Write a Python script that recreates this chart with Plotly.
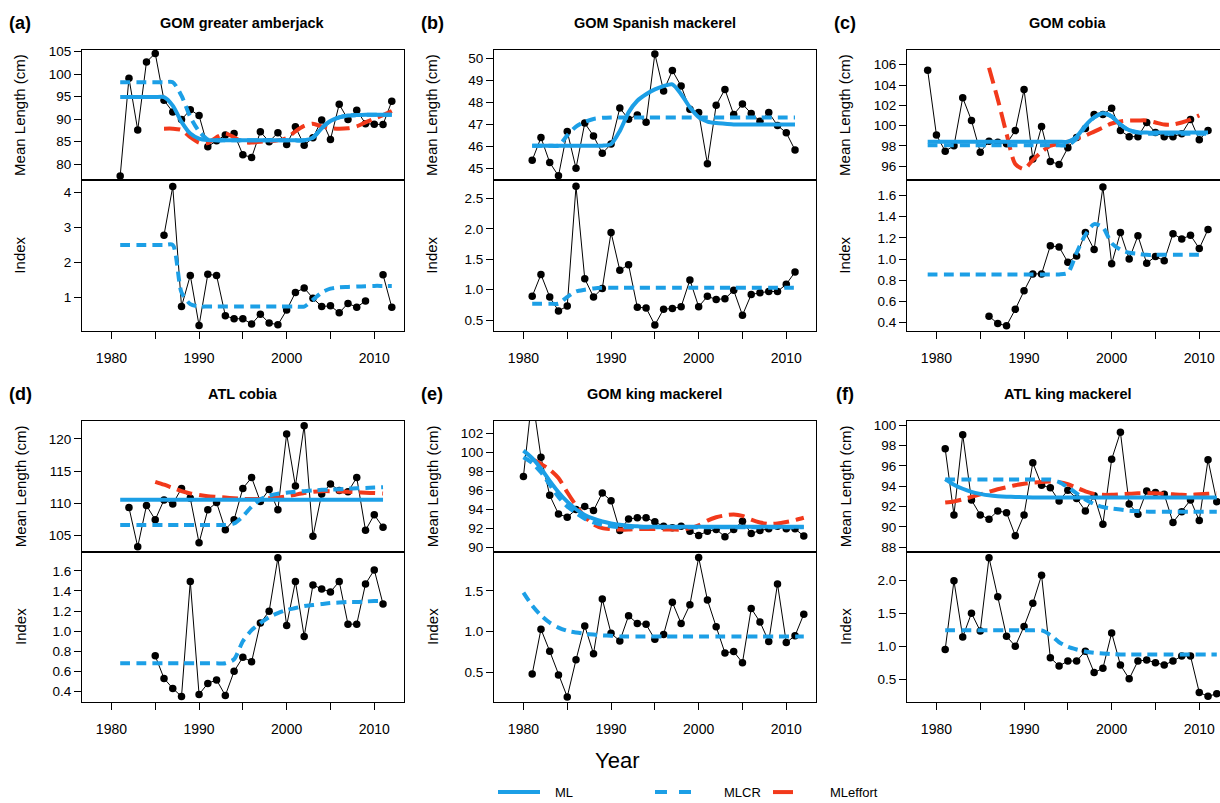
import plotly.graph_objects as go

W, H = 1220, 803
FONT = "Liberation Sans, Arial, Helvetica, sans-serif"
BLUE = "#1C9FE6"
RED = "#F2391B"

# ---------------- (a) GOM greater amberjack ----------------
a_len_years = [1981, 1982, 1983, 1984, 1985, 1986, 1987, 1988, 1989, 1990, 1991, 1992, 1993, 1994, 1995, 1996,
               1997, 1998, 1999, 2000, 2001, 2002, 2003, 2004, 2005, 2006, 2007, 2008, 2009, 2010, 2011, 2012]
a_len = [77.4, 99.1, 87.6, 102.7, 104.6, 94.2, 91.6, 89.9, 92.1, 90.8, 83.9, 85.2, 86.5, 86.8, 82.1, 81.5,
         87.2, 85.0, 87.0, 84.4, 88.3, 84.2, 85.9, 89.8, 85.5, 93.3, 89.9, 92.0, 89.0, 88.9, 88.8, 94.0]
a_ml = [94.9, 94.9, 94.9, 94.9, 94.9, 94.9, 93.0, 89.4, 86.8, 85.7, 85.35, 85.3, 85.3, 85.3, 85.3, 85.3,
        85.3, 85.3, 85.3, 85.3, 85.3, 85.3, 85.9, 88.0, 89.6, 90.4, 90.8, 90.9, 91.0, 91.0, 91.0, 91.0]
a_mlcr = [98.2, 98.2, 98.2, 98.2, 98.2, 98.2, 98.2, 95.2, 90.5, 87.3, 85.5, 85.3, 85.3, 85.3, 85.3, 85.3,
          85.3, 85.3, 85.3, 85.3, 85.3, 85.3, 85.9, 88.0, 89.6, 90.4, 90.8, 90.9, 91.0, 91.0, 91.0, 91.0]
a_eff_years = [1986, 1987, 1988, 1989, 1990, 1991, 1992, 1993, 1994, 1995, 1996, 1997, 1998, 1999, 2000,
               2001, 2002, 2003, 2004, 2005, 2006, 2007, 2008, 2009, 2010, 2011, 2012]
a_eff = [87.9, 87.9, 87.6, 86.0, 84.8, 84.7, 86.0, 86.8, 86.0, 84.9, 84.8, 85.0, 85.1, 85.3, 85.8,
         87.3, 88.5, 89.0, 88.4, 88.0, 87.9, 88.0, 88.4, 89.3, 90.1, 90.9, 91.8]
a_idx_years = [1986, 1987, 1988, 1989, 1990, 1991, 1992, 1993, 1994, 1995, 1996, 1997, 1998, 1999, 2000,
               2001, 2002, 2003, 2004, 2005, 2006, 2007, 2008, 2009, 2010, 2011, 2012]
a_idx = [2.77, 4.16, 0.73, 1.62, 0.19, 1.65, 1.62, 0.47, 0.38, 0.38, 0.23, 0.51, 0.26, 0.21, 0.63,
         1.13, 1.26, 0.97, 0.73, 0.75, 0.55, 0.82, 0.71, 0.89, None, 1.64, 0.71]
a_idx_cr = [2.49, 2.49, 2.49, 2.49, 2.49, 2.49, 2.49, 1.13, 0.80, 0.73, 0.73, 0.73, 0.73, 0.73, 0.73, 0.73,
            0.73, 0.73, 0.73, 0.73, 0.73, 0.73, 0.92, 1.13, 1.24, 1.28, 1.29, 1.30, 1.31, 1.32, 1.32, 1.32]

# ---------------- (b) GOM Spanish mackerel ----------------
b_years = [1981, 1982, 1983, 1984, 1985, 1986, 1987, 1988, 1989, 1990, 1991, 1992, 1993, 1994, 1995, 1996,
           1997, 1998, 1999, 2000, 2001, 2002, 2003, 2004, 2005, 2006, 2007, 2008, 2009, 2010, 2011]
b_len = [45.36, 46.4, 45.26, 44.65, 46.68, 45.0, 47.06, 46.47, 45.68, 46.1, 47.75, 47.24, 47.43, 47.1, 50.22,
         48.53, 49.46, 48.75, 47.69, 47.54, 45.2, 47.88, 48.6, 47.45, 47.93, 47.5, 47.15, 47.54, 46.95, 46.62, 45.83]
b_ml = [46.03, 46.03, 46.03, 46.03, 46.03, 46.03, 46.03, 46.03, 46.03, 46.1, 46.7, 47.55, 48.08, 48.38, 48.6,
        48.75, 48.83, 48.38, 47.78, 47.33, 47.13, 47.06, 47.03, 47.0, 47.0, 47.0, 47.0, 47.0, 47.0, 47.0, 47.0]
b_mlcr = [46.03, 46.03, 46.03, 46.03, 46.5, 46.9, 47.12, 47.25, 47.3, 47.32, 47.32, 47.32, 47.32, 47.32, 47.32,
          47.32, 47.32, 47.32, 47.32, 47.32, 47.32, 47.32, 47.32, 47.32, 47.32, 47.32, 47.32, 47.32, 47.32, 47.32, 47.32]
b_idx = [0.89, 1.25, 0.88, 0.65, 0.73, 2.70, 1.18, 0.88, 1.02, 1.94, 1.32, 1.41, 0.71, 0.70, 0.42,
         0.68, 0.69, 0.72, 1.16, 0.72, 0.89, 0.84, 0.85, 0.99, 0.58, 0.92, 0.95, 0.97, 0.97, 1.09, 1.29]
b_idx_cr = [0.77, 0.77, 0.77, 0.77, 0.88, 0.97, 1.0, 1.02, 1.03, 1.03, 1.03, 1.03, 1.03, 1.03, 1.03,
            1.03, 1.03, 1.03, 1.03, 1.03, 1.03, 1.03, 1.03, 1.03, 1.03, 1.03, 1.03, 1.03, 1.03, 1.03, 1.03]

# ---------------- (c) GOM cobia ----------------
c_years = [1979, 1980, 1981, 1982, 1983, 1984, 1985, 1986, 1987, 1988, 1989, 1990, 1991, 1992, 1993, 1994, 1995,
           1996, 1997, 1998, 1999, 2000, 2001, 2002, 2003, 2004, 2005, 2006, 2007, 2008, 2009, 2010, 2011]
c_len = [105.45, 99.06, 97.47, 98.0, 102.74, 100.5, 97.37, 98.44, 98.35, 98.2, 99.5, 103.55, 96.7, 99.9, 96.45,
         96.16, 97.8, 98.83, 99.7, 101.1, 101.1, 101.7, 99.5, 98.9, 98.9, 100.3, 99.3, 98.9, 98.9, 99.2, 100.6,
         98.6, 99.5]
c_ml = [98.4, 98.4, 98.4, 98.4, 98.4, 98.4, 98.4, 98.4, 98.4, 98.4, 98.4, 98.4, 98.4, 98.4, 98.4, 98.4, 98.4,
        98.9, 100.0, 100.8, 101.2, 100.9, 100.1, 99.55, 99.35, 99.3, 99.3, 99.3, 99.3, 99.3, 99.3, 99.3, 99.3]
c_mlcr = [98.05, 98.05, 98.05, 98.05, 98.05, 98.05, 98.05, 98.05, 98.05, 98.05, 98.05, 98.05, 98.05, 98.05,
          98.05, 98.05, 98.05, 98.7, 99.9, 100.8, 101.2, 100.9, 100.1, 99.5, 99.3, 99.2, 99.2, 99.2, 99.2, 99.2,
          99.2, 99.2, 99.2]
c_eff_years = [1986, 1987, 1988, 1989, 1990, 1991, 1992, 1993, 1994, 1995, 1996, 1997, 1998, 1999, 2000,
               2001, 2002, 2003, 2004, 2005, 2006, 2007, 2008, 2009, 2010]
c_eff = [105.7, 102.6, 99.2, 96.2, 95.7, 96.6, 97.4, 98.0, 98.2, 98.4, 98.7, 99.0, 99.4, 99.8, 100.2,
         100.4, 100.5, 100.5, 100.5, 100.3, 100.1, 100.1, 100.3, 100.6, 101.0]
c_idx_years = [1986, 1987, 1988, 1989, 1990, 1991, 1992, 1993, 1994, 1995, 1996, 1997, 1998, 1999, 2000,
               2001, 2002, 2003, 2004, 2005, 2006, 2007, 2008, 2009, 2010, 2011]
c_idx = [0.46, 0.39, 0.37, 0.525, 0.70, 0.86, 0.86, 1.125, 1.115, 0.97, 1.03, 1.25, 1.09, 1.68, 0.955,
         1.25, 1.0, 1.22, 0.96, 1.025, 0.985, 1.24, 1.19, 1.225, 1.10, 1.28]
c_cr_years = [1979, 1980, 1981, 1982, 1983, 1984, 1985, 1986, 1987, 1988, 1989, 1990, 1991, 1992, 1993, 1994,
              1995, 1996, 1997, 1998, 1999, 2000, 2001, 2002, 2003, 2004, 2005, 2006, 2007, 2008, 2009, 2010]
c_idx_cr = [0.855, 0.855, 0.855, 0.855, 0.855, 0.855, 0.855, 0.855, 0.855, 0.855, 0.855, 0.855, 0.855, 0.855,
            0.855, 0.855, 0.87, 1.06, 1.23, 1.33, 1.30, 1.15, 1.09, 1.06, 1.05, 1.04, 1.04, 1.04, 1.04, 1.04,
            1.04, 1.04]

# ---------------- (d) ATL cobia ----------------
d_len_years = [1982, 1983, 1984, 1985, 1986, 1987, 1988, 1989, 1990, 1991, 1992, 1993, 1994, 1995, 1996,
               1997, 1998, 1999, 2000, 2001, 2002, 2003, 2004, 2005, 2006, 2007, 2008, 2009, 2010, 2011]
d_len = [109.36, 103.27, 109.67, 107.47, 110.54, 109.92, 112.33, 110.8, 103.9, 109.0, 110.13, 105.93, 107.47,
         112.33, 114.0, 110.28, 112.17, 109.0, 120.77, 112.69, 122.05, 104.9, 111.46, 113.0, 112.0, 111.8,
         114.0, 105.83, 108.24, 106.29]
d_years = [1981, 1982, 1983, 1984, 1985, 1986, 1987, 1988, 1989, 1990, 1991, 1992, 1993, 1994, 1995, 1996,
           1997, 1998, 1999, 2000, 2001, 2002, 2003, 2004, 2005, 2006, 2007, 2008, 2009, 2010, 2011]
d_ml = [110.55, 110.55, 110.55, 110.55, 110.55, 110.55, 110.55, 110.55, 110.55, 110.55, 110.55, 110.55,
        110.55, 110.55, 110.55, 110.55, 110.55, 110.55, 110.55, 110.55, 110.55, 110.55, 110.55, 110.55,
        110.55, 110.55, 110.55, 110.55, 110.55, 110.55, 110.55]
d_mlcr = [106.65, 106.65, 106.65, 106.65, 106.65, 106.65, 106.65, 106.65, 106.65, 106.65, 106.65, 106.65,
          106.65, 106.9, 108.0, 109.5, 110.6, 111.2, 111.5, 111.65, 111.8, 111.9, 112.0, 112.1, 112.15, 112.2,
          112.3, 112.35, 112.4, 112.45, 112.5]
d_eff_years = [1985, 1986, 1987, 1988, 1989, 1990, 1991, 1992, 1993, 1994, 1995, 1996, 1997, 1998, 1999,
               2000, 2001, 2002, 2003, 2004, 2005, 2006, 2007, 2008, 2009, 2010, 2011]
d_eff = [113.35, 112.9, 112.4, 111.9, 111.55, 111.3, 111.1, 111.0, 110.9, 110.8, 110.7, 110.7, 110.7, 110.8,
         110.9, 111.1, 111.35, 111.6, 111.8, 111.9, 111.9, 111.85, 111.8, 111.7, 111.65, 111.6, 111.55]
d_idx_years = [1985, 1986, 1987, 1988, 1989, 1990, 1991, 1992, 1993, 1994, 1995, 1996, 1997, 1998, 1999,
               2000, 2001, 2002, 2003, 2004, 2005, 2006, 2007, 2008, 2009, 2010, 2011]
d_idx = [0.754, 0.53, 0.43, 0.35, 1.495, 0.37, 0.48, 0.515, 0.36, 0.60, 0.74, 0.695, 1.08, 1.197, 1.73,
         1.056, 1.495, 0.948, 1.46, 1.42, 1.39, 1.495, 1.07, 1.07, 1.47, 1.61, 1.27]
d_idx_cr = [0.68, 0.68, 0.68, 0.68, 0.68, 0.68, 0.68, 0.68, 0.68, 0.68, 0.68, 0.68, 0.68, 0.72, 0.90, 1.01,
            1.08, 1.14, 1.18, 1.21, 1.23, 1.25, 1.26, 1.27, 1.28, 1.285, 1.29, 1.29, 1.295, 1.30, 1.30]

# ---------------- (e) GOM king mackerel ----------------
e_years = [1980, 1981, 1982, 1983, 1984, 1985, 1986, 1987, 1988, 1989, 1990, 1991, 1992, 1993, 1994, 1995,
           1996, 1997, 1998, 1999, 2000, 2001, 2002, 2003, 2004, 2005, 2006, 2007, 2008, 2009, 2010, 2011, 2012]
e_len = [97.47, 106.0, 99.5, 95.47, 93.5, 93.16, 93.96, 94.3, 93.86, 95.72, 94.9, 91.75, 92.98, 93.09, 93.09,
         92.67, 92.2, 92.04, 92.2, 91.68, 91.23, 91.68, 91.86, 91.1, 91.86, 92.74, 91.44, 91.75, 91.93, 92.2,
         91.93, 91.93, 91.16]
e_ml = [100.2, 99.4, 98.3, 97.0, 95.8, 94.8, 94.0, 93.4, 93.0, 92.7, 92.5, 92.35, 92.25, 92.2, 92.15, 92.15,
        92.15, 92.15, 92.15, 92.15, 92.15, 92.15, 92.15, 92.15, 92.15, 92.15, 92.15, 92.15, 92.15, 92.15,
        92.15, 92.15, 92.15]
e_mlcr = [99.5, 98.9, 97.9, 96.6, 95.3, 94.3, 93.6, 93.0, 92.6, 92.35, 92.2, 92.1, 92.1, 92.1, 92.1, 92.1,
          92.1, 92.1, 92.1, 92.1, 92.1, 92.1, 92.1, 92.1, 92.1, 92.1, 92.1, 92.1, 92.1, 92.1, 92.1, 92.1, 92.1]
e_eff_years = [1981, 1982, 1983, 1984, 1985, 1986, 1987, 1988, 1989, 1990, 1991, 1992, 1993, 1994, 1995, 1996,
               1997, 1998, 1999, 2000, 2001, 2002, 2003, 2004, 2005, 2006, 2007, 2008, 2009, 2010, 2011, 2012]
e_eff = [99.3, 98.8, 98.2, 97.3, 95.8, 94.4, 93.2, 92.4, 92.0, 91.9, 91.85, 91.85, 91.9, 91.9, 91.9, 91.85,
         91.85, 91.85, 92.0, 92.3, 92.8, 93.15, 93.35, 93.45, 93.3, 92.9, 92.6, 92.45, 92.5, 92.65, 92.85, 93.1]
e_idx_years = [1981, 1982, 1983, 1984, 1985, 1986, 1987, 1988, 1989, 1990, 1991, 1992, 1993, 1994, 1995, 1996,
               1997, 1998, 1999, 2000, 2001, 2002, 2003, 2004, 2005, 2006, 2007, 2008, 2009, 2010, 2011, 2012]
e_idx = [0.48, 1.03, 0.76, 0.47, 0.20, 0.655, 1.07, 0.73, 1.40, 0.98, 0.886, 1.195, 1.10, 1.09, 0.906, 0.967,
         1.36, 1.10, 1.33, 1.91, 1.39, 1.06, 0.74, 0.756, 0.62, 1.285, 1.12, 0.88, 1.585, 0.866, 0.95, 1.215]
e_idx_cr = [1.48, 1.32, 1.20, 1.11, 1.05, 1.01, 0.99, 0.975, 0.965, 0.955, 0.95, 0.94, 0.94, 0.94, 0.94, 0.94,
            0.94, 0.94, 0.94, 0.94, 0.94, 0.94, 0.94, 0.94, 0.94, 0.94, 0.94, 0.94, 0.94, 0.94, 0.94, 0.94, 0.94]

# ---------------- (f) ATL king mackerel ----------------
f_years = [1981, 1982, 1983, 1984, 1985, 1986, 1987, 1988, 1989, 1990, 1991, 1992, 1993, 1994, 1995, 1996,
           1997, 1998, 1999, 2000, 2001, 2002, 2003, 2004, 2005, 2006, 2007, 2008, 2009, 2010, 2011, 2012]
f_len = [97.68, 91.18, 99.07, 92.64, 91.18, 90.76, 91.57, 91.4, 89.14, 91.18, 96.31, 94.1, 93.84, 92.55, 93.6,
         92.8, 91.57, 93.06, 90.27, 96.64, 99.3, 92.25, 91.25, 93.52, 93.39, 93.2, 90.44, 91.5, 92.64, 90.63,
         96.6, 92.48]
f_ml = [94.7, 94.15, 93.75, 93.45, 93.25, 93.1, 93.02, 92.97, 92.94, 92.92, 92.9, 92.9, 92.9, 92.9, 92.9, 92.9,
        92.9, 92.9, 92.9, 92.9, 92.9, 92.9, 92.9, 92.9, 92.9, 92.9, 92.9, 92.9, 92.9, 92.9, 92.9, 92.9]
f_mlcr = [94.65, 94.65, 94.65, 94.65, 94.65, 94.65, 94.65, 94.65, 94.65, 94.65, 94.65, 94.65, 94.65, 94.4, 93.9,
          93.3, 92.7, 92.25, 91.95, 91.8, 91.7, 91.6, 91.55, 91.5, 91.5, 91.5, 91.5, 91.5, 91.5, 91.5, 91.5, 91.5]
f_eff = [92.4, 92.5, 92.7, 92.95, 93.2, 93.45, 93.7, 93.9, 94.1, 94.25, 94.35, 94.42, 94.45, 94.4, 94.2, 93.85,
         93.5, 93.25, 93.15, 93.15, 93.2, 93.25, 93.3, 93.3, 93.3, 93.25, 93.2, 93.15, 93.15, 93.2, 93.25, 93.3]
f_idx = [0.95, 1.99, 1.14, 1.5, 1.23, 2.34, 1.75, 1.15, 1.0, 1.3, 1.65, 2.075, 0.825, 0.70, 0.775, 0.775,
         0.925, 0.60, 0.665, 1.2, 0.715, 0.505, 0.775, 0.79, 0.75, 0.715, 0.775, 0.85, 0.85, 0.30, 0.24, 0.28]
f_idx_cr = [1.24, 1.24, 1.24, 1.24, 1.24, 1.24, 1.24, 1.24, 1.24, 1.24, 1.24, 1.24, 1.17, 1.06, 0.99, 0.95,
            0.92, 0.90, 0.89, 0.88, 0.875, 0.875, 0.875, 0.875, 0.875, 0.875, 0.875, 0.875, 0.875, 0.875,
            0.875, 0.875]

x_tick_vals = [1980, 1985, 1990, 1995, 2000, 2005, 2010]
x_tick_text = ["1980", "", "1990", "", "2000", "", "2010"]

panels = [
    dict(letter="(a)", title="GOM greater amberjack",
         obs=(a_len_years, a_len), ml=(a_len_years, a_ml), mlcr=(a_len_years, a_mlcr), eff=(a_eff_years, a_eff),
         idx=(a_idx_years, a_idx), idxcr=(a_len_years, a_idx_cr),
         tr=[76.45, 105.45], br=[0.03, 4.34], tt=[80, 85, 90, 95, 100, 105], bt=[1, 2, 3, 4], bf="d"),
    dict(letter="(b)", title="GOM Spanish mackerel",
         obs=(b_years, b_len), ml=(b_years, b_ml), mlcr=(b_years, b_mlcr), eff=None,
         idx=(b_years, b_idx), idxcr=(b_years, b_idx_cr),
         tr=[44.45, 50.42], br=[0.32, 2.80], tt=[45, 46, 47, 48, 49, 50], bt=[0.5, 1.0, 1.5, 2.0, 2.5], bf=".1f"),
    dict(letter="(c)", title="GOM cobia",
         obs=(c_years, c_len), ml=(c_years, c_ml), mlcr=(c_years, c_mlcr), eff=(c_eff_years, c_eff),
         idx=(c_idx_years, c_idx), idxcr=(c_cr_years, c_idx_cr),
         tr=[94.6, 107.5], br=[0.32, 1.745], tt=[96, 98, 100, 102, 104, 106],
         bt=[0.4, 0.6, 0.8, 1.0, 1.2, 1.4, 1.6], bf=".1f"),
    dict(letter="(d)", title="ATL cobia",
         obs=(d_len_years, d_len), ml=(d_years, d_ml), mlcr=(d_years, d_mlcr), eff=(d_eff_years, d_eff),
         idx=(d_idx_years, d_idx), idxcr=(d_years, d_idx_cr),
         tr=[102.5, 122.8], br=[0.292, 1.79], tt=[105, 110, 115, 120],
         bt=[0.4, 0.6, 0.8, 1.0, 1.2, 1.4, 1.6], bf=".1f"),
    dict(letter="(e)", title="GOM king mackerel",
         obs=(e_years, e_len), ml=(e_years, e_ml), mlcr=(e_years, e_mlcr), eff=(e_eff_years, e_eff),
         idx=(e_idx_years, e_idx), idxcr=(e_years, e_idx_cr),
         tr=[89.5, 103.35], br=[0.134, 1.98], tt=[90, 92, 94, 96, 98, 100, 102], bt=[0.5, 1.0, 1.5], bf=".1f"),
    dict(letter="(f)", title="ATL king mackerel",
         obs=(f_years, f_len), ml=(f_years, f_ml), mlcr=(f_years, f_mlcr), eff=(f_years, f_eff),
         idx=(f_years, f_idx), idxcr=(f_years, f_idx_cr),
         tr=[87.55, 100.43], br=[0.15, 2.43], tt=[88, 90, 92, 94, 96, 98, 100], bt=[0.5, 1.0, 1.5, 2.0], bf=".1f"),
]

# geometry (pixels)
COL_LEFT = [82, 494, 907]
PX_PER_YR = 8.761
X0 = 1976.64
PLOT_W = 321.7
ROW_TOP = [45, 420]
ROW_DIV = [177, 552.3]
ROW_BOT = [329.3, 704.3]


def xdom(l, r):
    return [l / W, r / W]


def ydom(t, b):
    return [1 - b / H, 1 - t / H]


fig = go.Figure()
layout = dict(width=W, height=H, margin=dict(l=0, r=0, t=0, b=0),
              paper_bgcolor="white", plot_bgcolor="white", showlegend=False,
              font=dict(family=FONT, color="black", size=13))
annotations = []
shapes = []

line_ml = dict(color=BLUE, width=4, shape="spline", smoothing=0.7)
line_cr = dict(color=BLUE, width=4, dash="10px,6px", shape="spline", smoothing=0.7)
line_eff = dict(color=RED, width=4, dash="16px,7px", shape="spline", smoothing=0.7)

for i, p in enumerate(panels):
    col, row = i % 3, i // 3
    xl = COL_LEFT[col]
    xr = min(xl + PLOT_W, W)
    xrng = [X0, X0 + (xr - xl) / PX_PER_YR]
    n1, n2 = 2 * i + 1, 2 * i + 2
    s1 = "" if n1 == 1 else str(n1)
    s2 = str(n2)
    base_ax = dict(showgrid=False, zeroline=False, showline=True, linecolor="black", linewidth=1,
                   tickcolor="black", tickwidth=1, ticklen=7)
    layout["xaxis" + s1] = dict(base_ax, domain=xdom(xl, xr), range=xrng, anchor="y" + s1, mirror=True,
                                ticks="", showticklabels=False)
    layout["yaxis" + s1] = dict(base_ax, domain=ydom(ROW_TOP[row], ROW_DIV[row]), range=p["tr"],
                                anchor="x" + s1, mirror=(col < 2), ticks="outside", tickvals=p["tt"],
                                tickformat="d", tickfont=dict(size=13.5))
    layout["xaxis" + s2] = dict(base_ax, domain=xdom(xl, xr), range=xrng, anchor="y" + s2, mirror=True,
                                ticks="outside", tickvals=x_tick_vals, ticktext=x_tick_text,
                                tickfont=dict(size=14), ticklabelstandoff=7)
    layout["yaxis" + s2] = dict(base_ax, domain=ydom(ROW_DIV[row], ROW_BOT[row]), range=p["br"],
                                anchor="x" + s2, mirror=(col < 2), ticks="outside", tickvals=p["bt"],
                                tickformat=p["bf"], tickfont=dict(size=13.5))

    xa1, ya1 = "x" + s1, "y" + s1
    xa2, ya2 = "x" + s2, "y" + s2
    # top: mean length
    fig.add_trace(go.Scatter(x=p["obs"][0], y=p["obs"][1], mode="lines+markers", xaxis=xa1, yaxis=ya1,
                             line=dict(color="black", width=1), marker=dict(color="black", size=7.5)))
    if p["eff"] is not None:
        fig.add_trace(go.Scatter(x=p["eff"][0], y=p["eff"][1], mode="lines", xaxis=xa1, yaxis=ya1, line=line_eff))
    fig.add_trace(go.Scatter(x=p["mlcr"][0], y=p["mlcr"][1], mode="lines", xaxis=xa1, yaxis=ya1, line=line_cr))
    fig.add_trace(go.Scatter(x=p["ml"][0], y=p["ml"][1], mode="lines", xaxis=xa1, yaxis=ya1, line=line_ml))
    # bottom: index
    fig.add_trace(go.Scatter(x=p["idx"][0], y=p["idx"][1], mode="lines+markers", xaxis=xa2, yaxis=ya2,
                             connectgaps=False,
                             line=dict(color="black", width=1), marker=dict(color="black", size=7.5)))
    fig.add_trace(go.Scatter(x=p["idxcr"][0], y=p["idxcr"][1], mode="lines", xaxis=xa2, yaxis=ya2, line=line_cr))

    # titles & labels
    title_y = ROW_TOP[row] - 27
    annotations.append(dict(text="<b>%s</b>" % p["title"], xref="paper", yref="paper",
                            x=(xl + xl + PLOT_W) / 2 / W, y=1 - title_y / H,
                            showarrow=False, font=dict(size=14.5), xanchor="center", yanchor="middle"))
    annotations.append(dict(text="<b>%s</b>" % p["letter"], xref="paper", yref="paper",
                            x=(xl - 62) / W, y=1 - title_y / H, showarrow=False,
                            font=dict(size=18), xanchor="center", yanchor="middle"))
    annotations.append(dict(text="Mean Length (cm)", xref="paper", yref="paper", textangle=-90,
                            x=(xl - 62) / W, y=1 - (ROW_TOP[row] + ROW_DIV[row]) / 2 / H,
                            showarrow=False, font=dict(size=15), xanchor="center", yanchor="middle"))
    annotations.append(dict(text="Index", xref="paper", yref="paper", textangle=-90,
                            x=(xl - 62) / W, y=1 - (ROW_DIV[row] + ROW_BOT[row]) / 2 / H,
                            showarrow=False, font=dict(size=15), xanchor="center", yanchor="middle"))

annotations.append(dict(text="Year", xref="paper", yref="paper", x=617 / W, y=1 - 763 / H, showarrow=False,
                        font=dict(size=22), xanchor="center", yanchor="middle"))

# legend (drawn manually)
leg_y = 1 - 795 / H
legend_items = [("ML", BLUE, "solid", 498, 540, 553),
                ("MLCR", BLUE, "dash", 655, 700, 722),
                ("MLeffort", RED, "longdash", 773, 812, 828)]
for name, colr, dash, lx0, lx1, tx in legend_items:
    shapes.append(dict(type="line", xref="paper", yref="paper", x0=lx0 / W, x1=lx1 / W, y0=leg_y, y1=leg_y,
                       line=dict(color=colr, width=4, dash=dash)))
    annotations.append(dict(text=name, xref="paper", yref="paper", x=tx / W, y=leg_y, showarrow=False,
                            font=dict(size=13), xanchor="left", yanchor="middle"))

layout["annotations"] = annotations
layout["shapes"] = shapes
fig.update_layout(**layout)
fig.write_html("out.html")
